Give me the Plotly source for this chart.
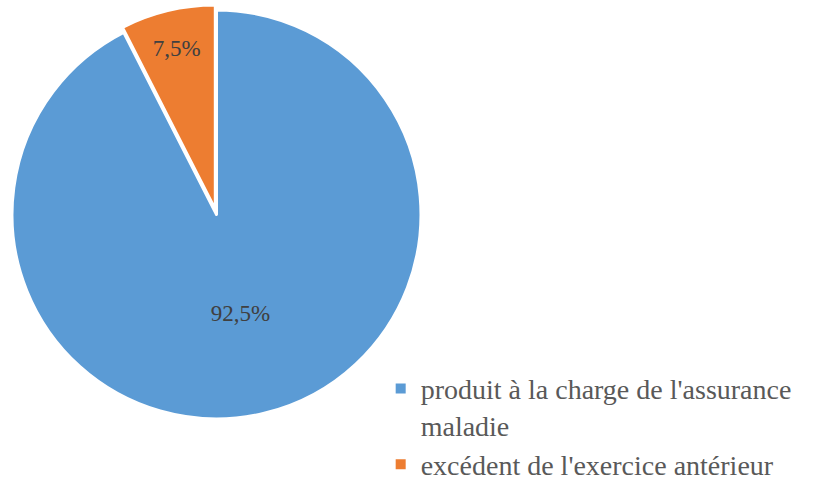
import plotly.graph_objects as go

labels = ["produit à la charge de l'assurance<br>maladie", "excédent de l'exercice antérieur"]
values = [92.5, 7.5]
text_labels = ["92,5%", "7,5%"]
colors = ["#5B9BD5", "#ED7D31"]
pulls = [0, 0.025]

SERIF = "'Liberation Serif', 'Times New Roman', 'DejaVu Serif', serif"

fig = go.Figure(go.Pie(
    labels=labels,
    values=values,
    text=text_labels,
    textinfo="text",
    textposition="inside",
    insidetextorientation="horizontal",
    textfont=dict(family=SERIF, size=23, color="#404040"),
    marker=dict(colors=colors, line=dict(color="white", width=3)),
    pull=pulls,
    sort=False,
    direction="clockwise",
    rotation=0,
    domain=dict(x=[0.0083, 0.5115], y=[0.1238, 0.9899]),
    hoverinfo="none",
))

fig.update_layout(
    width=833, height=484,
    margin=dict(l=0, r=0, t=0, b=0, autoexpand=False),
    paper_bgcolor="white",
    plot_bgcolor="white",
    font=dict(family=SERIF),
    showlegend=True,
    legend=dict(
        x=0.457, y=-0.012, xanchor="left", yanchor="bottom",
        valign="top",
        font=dict(family=SERIF, size=28, color="#595959"),
        itemsizing="constant",
        bgcolor="rgba(0,0,0,0)",
    ),
)

fig.write_html("out.html", config={"displayModeBar": False},
               post_script="document.body.style.margin='0';")
